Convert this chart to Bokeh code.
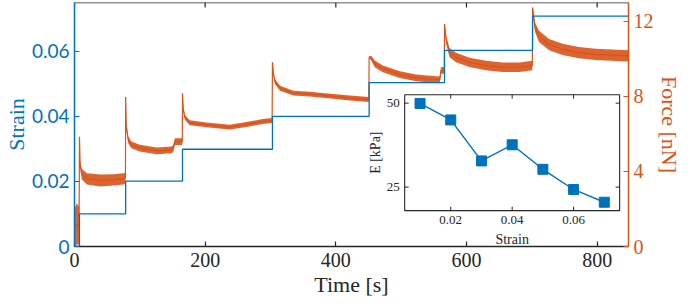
import math
from bokeh.plotting import figure
from bokeh.models import (Range1d, LinearAxis, FixedTicker, CustomJSTickFormatter,
                          ColumnDataSource, Span)
from bokeh.core.properties import value
from bokeh.embed import file_html
from bokeh.resources import INLINE

# ---------------- data ----------------
# strain steps: time at which each level starts, and the level
strain_t = [0.0, 7.6, 78.3, 165.3, 303.0, 451.0, 566.4, 701.2, 848.0]
strain_v = [0.0, 0.0100, 0.0201, 0.0299, 0.0400, 0.0504, 0.0603, 0.0708, 0.0708]

# force trace: time [s], centre value [nN], noise half-width [nN]
force_t = [0.0, 3.5, 7.0,
           7.6, 8.6, 11.0, 19.0, 39.0, 60.0, 75.0, 78.0,
           78.3, 79.3, 82.4, 87.0, 100.0, 125.6, 148.0, 151.0, 153.5, 164.0, 165.0,
           165.3, 166.5, 169.0, 176.5, 202.0, 237.5, 263.0, 288.0, 302.5,
           303.0, 304.5, 307.0, 314.7, 335.0, 360.0, 396.0, 421.5, 450.5,
           451.0, 454.5, 459.6, 472.0, 498.0, 523.0, 549.0, 559.0, 561.0, 566.0,
           566.4, 569.0, 574.0, 584.0, 604.5, 630.0, 655.0, 681.0, 700.8,
           701.2, 704.7, 711.0, 726.5, 747.0, 772.0, 797.7, 848.0]
force_f = [1.0, 1.2, 1.1,
           5.85, 4.4, 3.86, 3.60, 3.52, 3.55, 3.60, 3.65,
           7.97, 6.40, 5.67, 5.42, 5.24, 5.10, 5.15, 5.20, 5.59, 5.59, 5.60,
           8.17, 7.30, 6.88, 6.59, 6.48, 6.36, 6.50, 6.66, 6.71,
           9.81, 9.20, 8.78, 8.43, 8.17, 8.12, 8.00, 7.91, 7.83,
           10.10, 10.02, 9.73, 9.47, 9.16, 8.98, 8.91, 8.88, 9.38, 9.38,
           11.85, 11.00, 10.33, 10.07, 9.81, 9.64, 9.55, 9.55, 9.64,
           12.74, 11.70, 11.19, 10.76, 10.50, 10.33, 10.24, 10.16]
force_w = [1.0, 1.1, 1.0,
           0.05, 0.15, 0.28, 0.30, 0.32, 0.30, 0.30, 0.28,
           0.05, 0.12, 0.18, 0.18, 0.18, 0.18, 0.18, 0.18, 0.18, 0.18, 0.18,
           0.05, 0.10, 0.13, 0.13, 0.13, 0.13, 0.13, 0.13, 0.13,
           0.05, 0.10, 0.13, 0.13, 0.13, 0.13, 0.13, 0.13, 0.13,
           0.05, 0.13, 0.18, 0.18, 0.18, 0.18, 0.18, 0.18, 0.18, 0.18,
           0.05, 0.20, 0.25, 0.25, 0.25, 0.25, 0.25, 0.25, 0.25,
           0.05, 0.25, 0.30, 0.30, 0.30, 0.30, 0.30, 0.30]

# inset: Young's modulus vs strain
inset_strain = [0.01, 0.02, 0.03, 0.04, 0.05, 0.06, 0.07]
inset_E = [49.9, 45.0, 32.8, 37.6, 30.3, 24.3, 20.5]

time_ticks = [0, 200, 400, 600, 800]
strain_ticks = [0, 0.02, 0.04, 0.06]
force_ticks = [0, 4, 8, 12]
inset_xticks = [0.02, 0.04, 0.06]
inset_xtick_labels = ["0.02", "0.04", "0.06"]
inset_yticks = [25, 50]
inset_ytick_labels = ["25", "50"]

# ---------------- style ----------------
BLUE = "#0072BD"
ORANGE = "#D95319"
DARK = "#262626"
SERIF = "'Liberation Serif', 'Times New Roman', serif"
SANS = "Lato, sans-serif"

X_MAX = 848
Y_MAX = 0.075
p = figure(width=684, height=299, output_backend="svg", toolbar_location=None,
           x_range=Range1d(0, X_MAX), y_range=Range1d(0, Y_MAX),
           min_border_left=73, min_border_right=56, min_border_top=2,
           min_border_bottom=0)
p.outline_line_color = None
p.grid.visible = False
p.background_fill_color = "white"
p.border_fill_color = "white"

p.extra_y_ranges = {"force": Range1d(0, 13)}

# inset placement as fractions of the plot frame
IX_FRAC = (0.596, 0.984)
IY_FRAC = (0.147, 0.622)
IX_LIM = (0.005, 0.075)
IY_LIM = (18.0, 52.5)
FRAME_W, FRAME_H = 555.0, 248.0


def ext_range(lim, frac):
    span = (lim[1] - lim[0]) / (frac[1] - frac[0])
    start = lim[0] - frac[0] * span
    return Range1d(start, start + span), span


ix_range, ix_span = ext_range(IX_LIM, IX_FRAC)
iy_range, iy_span = ext_range(IY_LIM, IY_FRAC)
p.extra_x_ranges = {"ix": ix_range}
p.extra_y_ranges["iy"] = iy_range

# ---------------- axes ----------------
def style_axis(ax, color, font, size):
    ax.axis_line_color = color
    ax.axis_line_width = 1.5
    ax.major_tick_line_color = color
    ax.major_tick_line_width = 1.2
    ax.major_tick_in = 5
    ax.major_tick_out = 0
    ax.minor_tick_line_color = None
    ax.major_label_text_color = color
    ax.major_label_text_font = font
    ax.major_label_text_font_size = size
    ax.axis_label_text_color = color
    ax.axis_label_text_font = SERIF
    ax.axis_label_text_font_size = "22px"
    ax.axis_label_text_font_style = "normal"


xa = p.xaxis[0]
xa.ticker = FixedTicker(ticks=time_ticks)
style_axis(xa, DARK, SERIF, "20px")
xa.axis_label = "Time [s]"
xa.major_label_standoff = 6
xa.axis_label_standoff = 2

ya = p.yaxis[0]
ya.ticker = FixedTicker(ticks=strain_ticks)
ya.formatter = CustomJSTickFormatter(code="return tick == 0 ? '0' : tick.toFixed(2);")
style_axis(ya, BLUE, SANS, "19px")
ya.axis_label = "Strain"
ya.major_label_standoff = 5
ya.axis_label_standoff = 0

ra = LinearAxis(y_range_name="force", ticker=FixedTicker(ticks=force_ticks),
                axis_label="Force [nN]")
style_axis(ra, ORANGE, SERIF, "20px")
ra.major_label_standoff = 5
ra.axis_label_standoff = 0
p.add_layout(ra, "right")

# top border with inward ticks (no labels)
p.add_layout(Span(location=Y_MAX, dimension="width", line_color=DARK,
                  line_width=1.5))
top_tl = 5.0 * Y_MAX / FRAME_H
k = len(time_ticks)
p.segment(x0=time_ticks, x1=time_ticks, y0=[Y_MAX] * k, y1=[Y_MAX - top_tl] * k,
          line_color=DARK, line_width=1.2)

# ---------------- main data ----------------
src = ColumnDataSource(dict(
    t=force_t, f=force_f,
    lo=[f - w for f, w in zip(force_f, force_w)],
    hi=[f + w for f, w in zip(force_f, force_w)]))
p.varea(x="t", y1="lo", y2="hi", source=src, fill_color=ORANGE, fill_alpha=0.9,
        y_range_name="force")
p.line(x="t", y="f", source=src, line_color=ORANGE, line_width=1.2,
       y_range_name="force")

p.step(x=strain_t, y=strain_v, mode="after", line_color=BLUE, line_width=1.3)

# ---------------- inset ----------------
p.quad(left=[IX_LIM[0]], right=[IX_LIM[1]], bottom=[IY_LIM[0]], top=[IY_LIM[1]],
       fill_color="white", line_color=DARK, line_width=1.1,
       x_range_name="ix", y_range_name="iy")

tl_y = 4.0 * iy_span / FRAME_H
tl_x = 4.0 * ix_span / FRAME_W
n = len(inset_xticks)
p.segment(x0=inset_xticks, x1=inset_xticks, y0=[IY_LIM[0]] * n,
          y1=[IY_LIM[0] + tl_y] * n, line_color=DARK, line_width=1,
          x_range_name="ix", y_range_name="iy")
p.segment(x0=inset_xticks, x1=inset_xticks, y0=[IY_LIM[1]] * n,
          y1=[IY_LIM[1] - tl_y] * n, line_color=DARK, line_width=1,
          x_range_name="ix", y_range_name="iy")
m = len(inset_yticks)
p.segment(x0=[IX_LIM[0]] * m, x1=[IX_LIM[0] + tl_x] * m, y0=inset_yticks,
          y1=inset_yticks, line_color=DARK, line_width=1,
          x_range_name="ix", y_range_name="iy")
p.segment(x0=[IX_LIM[1]] * m, x1=[IX_LIM[1] - tl_x] * m, y0=inset_yticks,
          y1=inset_yticks, line_color=DARK, line_width=1,
          x_range_name="ix", y_range_name="iy")

p.line(x=inset_strain, y=inset_E, line_color=BLUE, line_width=1.4,
       x_range_name="ix", y_range_name="iy")
p.scatter(x=inset_strain, y=inset_E, marker="square", size=10,
          fill_color=BLUE, line_color=BLUE, x_range_name="ix", y_range_name="iy")

p.text(x=inset_xticks, y=[IY_LIM[0]] * n, text=inset_xtick_labels,
       y_offset=5, text_align="center", text_baseline="top",
       text_font=value(SERIF), text_font_size="13px", text_color=DARK,
       x_range_name="ix", y_range_name="iy")
p.text(x=[IX_LIM[0]] * m, y=inset_yticks, text=inset_ytick_labels,
       x_offset=-5, text_align="right", text_baseline="middle",
       text_font=value(SERIF), text_font_size="13px", text_color=DARK,
       x_range_name="ix", y_range_name="iy")
p.text(x=[sum(IX_LIM) / 2], y=[IY_LIM[0]], text=["Strain"], y_offset=21,
       text_align="center", text_baseline="top",
       text_font=value(SERIF), text_font_size="14px", text_color=DARK,
       x_range_name="ix", y_range_name="iy")
p.text(x=[IX_LIM[0]], y=[sum(IY_LIM) / 2], text=["E [kPa]"], x_offset=-29,
       angle=math.pi / 2, text_align="center", text_baseline="middle",
       text_font=value(SERIF), text_font_size="14px", text_color=DARK,
       x_range_name="ix", y_range_name="iy")

open("out.html", "w").write(file_html(p, INLINE))
